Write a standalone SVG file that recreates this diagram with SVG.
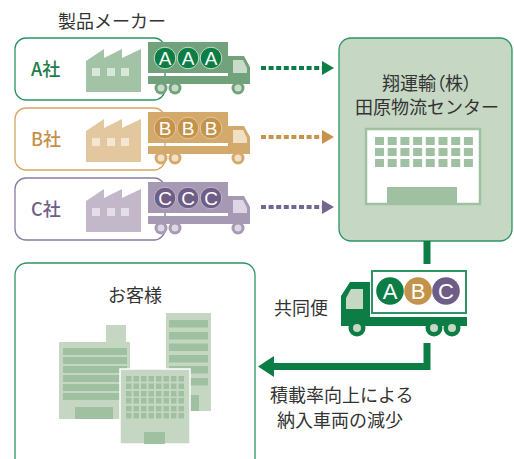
<svg xmlns="http://www.w3.org/2000/svg" xmlns:xlink="http://www.w3.org/1999/xlink" width="514" height="459" viewBox="0 0 514 459">
  <style>
    text { font-family: "Noto Sans CJK JP", "Noto Sans", sans-serif; font-size: 18px; fill: #333; }
    .co { font-size: 18px; font-weight: 500; }
    .palt { font-feature-settings: "palt" 1; }
    .badge { font-family: "Liberation Sans", Arial, sans-serif; font-size: 19px; fill: #fff; text-anchor: middle; }
    .badge-big { font-family: "Liberation Sans", Arial, sans-serif; font-size: 22px; fill: #fff; text-anchor: middle; }
    .maker { fill: #fff; stroke-width: 1.3; }
    .bld { fill: #c5d7c3; }
    .bld-d { fill: #9fc1a1; }
  </style>
  <defs>
    <!-- right-facing truck, body colour from fill, light parts from color -->
    <g id="truck">
      <rect x="0" y="0" width="80" height="31"/>
      <rect x="0" y="34" width="102" height="8"/>
      <path d="M80,14 L96,14 L102,25 L102,42 L80,42 Z"/>
      <path d="M85,18 L95,18 L99,26 L99,31 L85,31 Z" fill="currentColor"/>
      <circle cx="13" cy="46" r="6.5"/>
      <circle cx="27" cy="46" r="6.5"/>
      <circle cx="90" cy="46" r="6.5"/>
      <circle cx="13" cy="46" r="3.5" fill="currentColor"/>
      <circle cx="27" cy="46" r="3.5" fill="currentColor"/>
      <circle cx="90" cy="46" r="3.5" fill="currentColor"/>
    </g>
    <!-- factory silhouette with three windows -->
    <g id="factory">
      <path d="M0,43 L0,12 L18,0 L18,9 L36,0 L36,9 L55,0 L55,43 Z"/>
      <rect x="6" y="19" width="8" height="8" fill="currentColor"/>
      <rect x="21" y="19" width="8" height="8" fill="currentColor"/>
      <rect x="35" y="19" width="8" height="8" fill="currentColor"/>
    </g>
  </defs>

  <text x="58" y="27.5">製品メーカー</text>

  <!-- manufacturer A -->
  <g id="maker-a">
    <rect class="maker" x="15" y="38" width="150" height="62" rx="11" stroke="#2c9563"/>
    <text class="co" x="31" y="76" style="fill:#1e7d4a">A社</text>
    <use xlink:href="#factory" x="86" y="49" fill="#a2c3a5" color="#d8e7d8"/>
    <use xlink:href="#truck" x="148" y="42" fill="#72a27c" color="#c9dcc9"/>
    <g stroke="#c9dcc9" stroke-width="1" fill="#0b7d45">
      <circle cx="165" cy="58" r="10.8"/>
      <circle cx="188" cy="58" r="10.8"/>
      <circle cx="211" cy="58" r="10.8"/>
    </g>
    <text class="badge" x="165" y="64.8">A</text>
    <text class="badge" x="188" y="64.8">A</text>
    <text class="badge" x="211" y="64.8">A</text>
  </g>

  <!-- manufacturer B -->
  <g id="maker-b">
    <rect class="maker" x="15" y="108" width="150" height="62" rx="11" stroke="#d6a765"/>
    <text class="co" x="31" y="146" style="fill:#c58f48">B社</text>
    <use xlink:href="#factory" x="86" y="119" fill="#e3c79e" color="#f3e6d2"/>
    <use xlink:href="#truck" x="148" y="112" fill="#d4aa6c" color="#f0e0c6"/>
    <g stroke="#e3c79e" stroke-width="1" fill="#c4934b">
      <circle cx="165" cy="128" r="10.8"/>
      <circle cx="188" cy="128" r="10.8"/>
      <circle cx="211" cy="128" r="10.8"/>
    </g>
    <text class="badge" x="165" y="134.8">B</text>
    <text class="badge" x="188" y="134.8">B</text>
    <text class="badge" x="211" y="134.8">B</text>
  </g>

  <!-- manufacturer C -->
  <g id="maker-c">
    <rect class="maker" x="15" y="178" width="150" height="62" rx="11" stroke="#8a7ba0"/>
    <text class="co" x="31" y="216" style="fill:#6e5d87">C社</text>
    <use xlink:href="#factory" x="86" y="189" fill="#c2b8ca" color="#e3dee8"/>
    <use xlink:href="#truck" x="148" y="182" fill="#a699b3" color="#ddd7e3"/>
    <g stroke="#c2b8ca" stroke-width="1" fill="#6e5d87">
      <circle cx="165" cy="198" r="10.8"/>
      <circle cx="188" cy="198" r="10.8"/>
      <circle cx="211" cy="198" r="10.8"/>
    </g>
    <text class="badge" x="165" y="204.8">C</text>
    <text class="badge" x="188" y="204.8">C</text>
    <text class="badge" x="211" y="204.8">C</text>
  </g>

  <!-- distribution centre -->
  <g id="center">
    <rect x="339" y="38" width="173" height="203" rx="12" fill="#c6d8c4" stroke="#2c9563" stroke-width="1.3"/>
    <text class="palt" x="427" y="89.5" text-anchor="middle">翔運輸（株）</text>
    <text x="355" y="113.5">田原物流センター</text>
    <rect x="366" y="129" width="114" height="75" fill="#fff" stroke="#9fc1a1" stroke-width="2.5"/>
    <g fill="#9fc1a1">
      <rect x="375" y="137" width="9" height="8"/><rect x="387.7" y="137" width="9" height="8"/><rect x="400.4" y="137" width="9" height="8"/><rect x="413.1" y="137" width="9" height="8"/><rect x="425.8" y="137" width="9" height="8"/><rect x="438.5" y="137" width="9" height="8"/><rect x="451.2" y="137" width="9" height="8"/><rect x="463.9" y="137" width="9" height="8"/>
      <rect x="375" y="148" width="9" height="8"/><rect x="387.7" y="148" width="9" height="8"/><rect x="400.4" y="148" width="9" height="8"/><rect x="413.1" y="148" width="9" height="8"/><rect x="425.8" y="148" width="9" height="8"/><rect x="438.5" y="148" width="9" height="8"/><rect x="451.2" y="148" width="9" height="8"/><rect x="463.9" y="148" width="9" height="8"/>
      <rect x="375" y="159" width="9" height="8"/><rect x="387.7" y="159" width="9" height="8"/><rect x="400.4" y="159" width="9" height="8"/><rect x="413.1" y="159" width="9" height="8"/><rect x="425.8" y="159" width="9" height="8"/><rect x="438.5" y="159" width="9" height="8"/><rect x="451.2" y="159" width="9" height="8"/><rect x="463.9" y="159" width="9" height="8"/>
      <rect x="387" y="187" width="70" height="17"/>
    </g>
  </g>

  <!-- joint delivery truck -->
  <g id="joint-truck">
    <rect x="372" y="271" width="94" height="42" fill="#fff" stroke="#2c9563" stroke-width="2"/>
    <circle cx="390" cy="291" r="13.8" fill="#0b7d45"/>
    <circle cx="418" cy="291" r="13.8" fill="#c4934b"/>
    <circle cx="446" cy="291" r="13.8" fill="#6e5d87"/>
    <text class="badge-big" x="390" y="299">A</text>
    <text class="badge-big" x="418" y="299">B</text>
    <text class="badge-big" x="446" y="299">C</text>
    <g fill="#0b7d45">
      <path d="M350,282 L370,282 L370,326 L341,326 L341,296 Z"/>
      <rect x="341" y="317" width="126" height="9"/>
      <circle cx="357" cy="328" r="8.5"/>
      <circle cx="434" cy="328" r="8.5"/>
      <circle cx="452" cy="328" r="8.5"/>
    </g>
    <path d="M351,289 L363,289 L363,309 L346,309 L346,298 Z" fill="#c6d8c4"/>
    <g fill="#c6d8c4">
      <circle cx="357" cy="328" r="4"/>
      <circle cx="434" cy="328" r="4"/>
      <circle cx="452" cy="328" r="4"/>
    </g>
    <text x="274" y="314.5">共同便</text>
  </g>

  <!-- customers -->
  <g id="customer">
    <rect x="15" y="263" width="240" height="215" rx="12" fill="#fff" stroke="#2c9563" stroke-width="1.3"/>
    <text x="135" y="302" text-anchor="middle">お客様</text>
    <!-- left building -->
    <rect class="bld" x="106" y="325" width="20" height="20"/>
    <rect class="bld" x="59" y="342" width="71" height="77"/>
    <g class="bld-d">
      <rect x="63" y="348" width="64" height="7"/><rect x="63" y="357" width="64" height="7"/><rect x="63" y="366" width="64" height="7"/><rect x="63" y="375" width="64" height="7"/><rect x="63" y="384" width="64" height="7"/><rect x="63" y="393" width="64" height="7"/>
      <rect x="75" y="407" width="38" height="12"/>
    </g>
    <!-- tall building -->
    <rect class="bld" x="166" y="313" width="45" height="98"/>
    <g class="bld-d">
      <rect x="169" y="320" width="39" height="7.5"/><rect x="169" y="332" width="39" height="7.5"/><rect x="169" y="343.5" width="39" height="7.5"/><rect x="169" y="355" width="39" height="7.5"/><rect x="169" y="366" width="39" height="7.5"/><rect x="169" y="378" width="39" height="7.5"/>
      <rect x="187" y="395" width="12" height="16"/>
    </g>
    <!-- front building -->
    <rect class="bld" x="120" y="369" width="70" height="75" stroke="#fff" stroke-width="1.5"/>
    <g class="bld-d">
      <rect x="126" y="376" width="5.5" height="5.5"/><rect x="133.5" y="376" width="5.5" height="5.5"/><rect x="141" y="376" width="5.5" height="5.5"/><rect x="148.5" y="376" width="5.5" height="5.5"/><rect x="156" y="376" width="5.5" height="5.5"/><rect x="163.5" y="376" width="5.5" height="5.5"/><rect x="171" y="376" width="5.5" height="5.5"/><rect x="178.5" y="376" width="5.5" height="5.5"/>
      <rect x="126" y="383.5" width="5.5" height="5.5"/><rect x="133.5" y="383.5" width="5.5" height="5.5"/><rect x="141" y="383.5" width="5.5" height="5.5"/><rect x="148.5" y="383.5" width="5.5" height="5.5"/><rect x="156" y="383.5" width="5.5" height="5.5"/><rect x="163.5" y="383.5" width="5.5" height="5.5"/><rect x="171" y="383.5" width="5.5" height="5.5"/><rect x="178.5" y="383.5" width="5.5" height="5.5"/>
      <rect x="126" y="391" width="5.5" height="5.5"/><rect x="133.5" y="391" width="5.5" height="5.5"/><rect x="141" y="391" width="5.5" height="5.5"/><rect x="148.5" y="391" width="5.5" height="5.5"/><rect x="156" y="391" width="5.5" height="5.5"/><rect x="163.5" y="391" width="5.5" height="5.5"/><rect x="171" y="391" width="5.5" height="5.5"/><rect x="178.5" y="391" width="5.5" height="5.5"/>
      <rect x="126" y="398" width="5.5" height="5.5"/><rect x="133.5" y="398" width="5.5" height="5.5"/><rect x="141" y="398" width="5.5" height="5.5"/><rect x="148.5" y="398" width="5.5" height="5.5"/><rect x="156" y="398" width="5.5" height="5.5"/><rect x="163.5" y="398" width="5.5" height="5.5"/><rect x="171" y="398" width="5.5" height="5.5"/><rect x="178.5" y="398" width="5.5" height="5.5"/>
      <rect x="126" y="406" width="5.5" height="5.5"/><rect x="133.5" y="406" width="5.5" height="5.5"/><rect x="141" y="406" width="5.5" height="5.5"/><rect x="148.5" y="406" width="5.5" height="5.5"/><rect x="156" y="406" width="5.5" height="5.5"/><rect x="163.5" y="406" width="5.5" height="5.5"/><rect x="171" y="406" width="5.5" height="5.5"/><rect x="178.5" y="406" width="5.5" height="5.5"/>
      <rect x="126" y="413" width="5.5" height="5.5"/><rect x="133.5" y="413" width="5.5" height="5.5"/><rect x="141" y="413" width="5.5" height="5.5"/><rect x="148.5" y="413" width="5.5" height="5.5"/><rect x="156" y="413" width="5.5" height="5.5"/><rect x="163.5" y="413" width="5.5" height="5.5"/><rect x="171" y="413" width="5.5" height="5.5"/><rect x="178.5" y="413" width="5.5" height="5.5"/>
      <rect x="144" y="432" width="21" height="12"/>
    </g>
  </g>

  <!-- connectors -->
  <g id="connectors">
    <line x1="261" y1="68" x2="322" y2="68" stroke="#0b7d45" stroke-width="4" stroke-dasharray="5 2.6"/>
    <polygon points="322,61 334,68 322,75" fill="#0b7d45"/>
    <line x1="261" y1="137" x2="322" y2="137" stroke="#c8914c" stroke-width="4" stroke-dasharray="5 2.6"/>
    <polygon points="322,130 334,137 322,144" fill="#c8914c"/>
    <line x1="261" y1="207" x2="322" y2="207" stroke="#76658e" stroke-width="4" stroke-dasharray="5 2.6"/>
    <polygon points="322,200 334,207 322,214" fill="#76658e"/>
    <line x1="427" y1="241" x2="427" y2="264" stroke="#0b7d45" stroke-width="7"/>
    <polyline points="427,343 427,366.5 272,366.5" fill="none" stroke="#0b7d45" stroke-width="7"/>
    <polygon points="274,356 258,366.5 274,377" fill="#0b7d45"/>
  </g>

  <text x="270" y="401.5">積載率向上による</text>
  <text x="277" y="426.5">納入車両の減少</text>
</svg>
